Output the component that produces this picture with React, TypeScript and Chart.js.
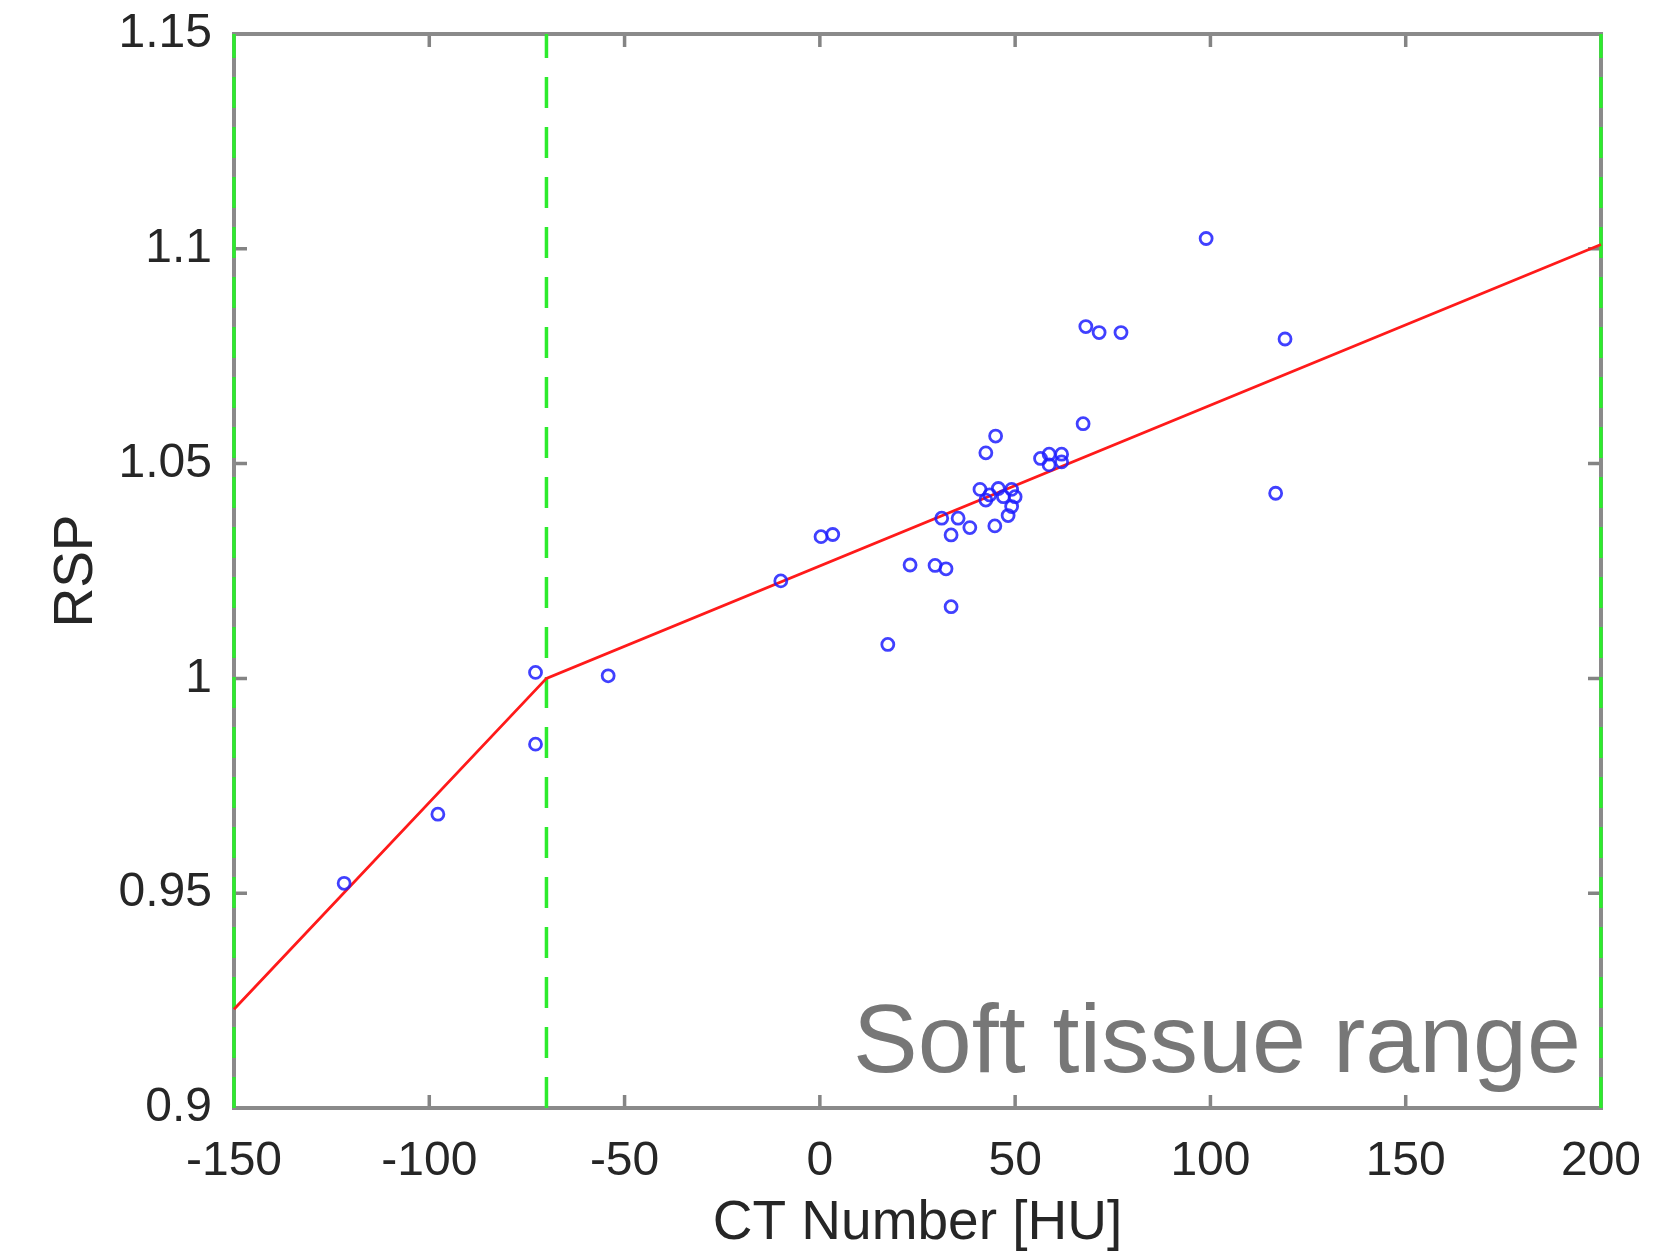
import React, { useEffect, useRef } from "react";
import { Chart, registerables } from "chart.js";

Chart.register(...registerables);

// ---- data ----
const ctNumbers = [
  -121.8, -97.8, -72.8, -72.8, -54.2, -10.0, 0.3, 3.3, 17.4, 23.1,
  29.5, 32.3, 33.6, 31.2, 35.4, 33.6, 38.4, 42.5, 45.0, 44.8,
  48.2, 49.1, 41.0, 42.5, 43.5, 45.7, 47.0, 49.1, 50.0, 56.5,
  58.7, 61.9, 58.7, 61.9, 67.4, 68.1, 71.5, 77.1, 98.9, 116.7, 119.1,
];
const rspValues = [
  0.9523, 0.9684, 1.0014, 0.9847, 1.0006, 1.0227, 1.0330, 1.0335, 1.0079, 1.0264,
  1.0263, 1.0255, 1.0167, 1.0373, 1.0373, 1.0334, 1.0351, 1.0525, 1.0564, 1.0355,
  1.0379, 1.0400, 1.0440, 1.0415, 1.0427, 1.0442, 1.0423, 1.0440, 1.0423, 1.0512,
  1.0522, 1.0522, 1.0497, 1.0504, 1.0593, 1.0819, 1.0805, 1.0805, 1.1024, 1.0431, 1.0790,
];
const fitCT = [-150, -70, 200];
const fitRSP = [0.923, 1.0, 1.101];
const boundaryCT = [-150, -70, 200];
const rspRange = [0.9, 1.15];
const ctRange = [-150, 200];

const xTickValues = [-150, -100, -50, 0, 50, 100, 150, 200];
const xTickLabels = ["-150", "-100", "-50", "0", "50", "100", "150", "200"];
const yTickValues = [0.9, 0.95, 1, 1.05, 1.1, 1.15];
const yTickLabels = ["0.9", "0.95", "1", "1.05", "1.1", "1.15"];

const xTitle = "CT Number [HU]";
const yTitle = "RSP";
const annotationText = "Soft tissue range";

const FONT = "'Liberation Sans', Arial, Helvetica, sans-serif";
const AXIS_GRAY = "#8a8a8a";

const boxPlugin = {
  id: "matlabBox",
  beforeDatasetsDraw(chart: any) {
    const { ctx, chartArea, scales } = chart;
    const { left, right, top, bottom } = chartArea;
    ctx.save();
    ctx.strokeStyle = "#848484";
    ctx.lineWidth = 3.5;
    const tl = 13;
    xTickValues.forEach((v) => {
      const px = scales.x.getPixelForValue(v);
      ctx.beginPath();
      ctx.moveTo(px, bottom);
      ctx.lineTo(px, bottom - tl);
      ctx.moveTo(px, top);
      ctx.lineTo(px, top + tl);
      ctx.stroke();
    });
    yTickValues.forEach((v) => {
      const py = scales.y.getPixelForValue(v);
      ctx.beginPath();
      ctx.moveTo(left, py);
      ctx.lineTo(left + tl, py);
      ctx.moveTo(right, py);
      ctx.lineTo(right - tl, py);
      ctx.stroke();
    });
    ctx.strokeStyle = AXIS_GRAY;
    ctx.lineWidth = 4;
    ctx.strokeRect(left, top, right - left, bottom - top);
    ctx.restore();
  },
  afterDraw(chart: any) {
    const { ctx, chartArea } = chart;
    ctx.save();
    ctx.fillStyle = "#777777";
    ctx.font = `97px ${FONT}`;
    ctx.textAlign = "right";
    ctx.textBaseline = "alphabetic";
    ctx.fillText(annotationText, chartArea.right - 20, chartArea.bottom - 36);
    ctx.restore();
  },
};

export default function App() {
  const canvasRef = useRef<HTMLCanvasElement | null>(null);

  useEffect(() => {
    if (!canvasRef.current) return;
    const boundaryDatasets = boundaryCT.map((ct) => ({
      type: "line" as const,
      data: [
        { x: ct, y: rspRange[0] },
        { x: ct, y: rspRange[1] },
      ],
      borderColor: "rgb(45,235,45)",
      borderWidth: 3.5,
      borderDash: [31, 19],
      pointRadius: 0,
      showLine: true,
      fill: false,
      clip: false as any,
      order: 3,
    }));
    const chart = new Chart(canvasRef.current, {
      type: "scatter",
      data: {
        datasets: [
          ...boundaryDatasets,
          {
            type: "line",
            data: fitCT.map((x, i) => ({ x, y: fitRSP[i] })),
            borderColor: "#ff1a1a",
            borderWidth: 2.8,
            pointRadius: 0,
            showLine: true,
            fill: false,
            clip: false as any,
            order: 2,
          },
          {
            type: "scatter",
            data: ctNumbers.map((x, i) => ({ x, y: rspValues[i] })),
            borderColor: "rgba(30,30,255,0.85)",
            backgroundColor: "rgba(0,0,0,0)",
            borderWidth: 2.8,
            pointRadius: 6,
            pointStyle: "circle",
            order: 1,
          },
        ] as any,
      },
      options: {
        animation: false,
        responsive: false,
        devicePixelRatio: 1,
        layout: { padding: { left: 0, right: 69, top: 34, bottom: 0 } },
        plugins: {
          legend: { display: false },
          tooltip: { enabled: false },
        },
        scales: {
          x: {
            type: "linear",
            min: ctRange[0],
            max: ctRange[1],
            grid: { display: false },
            border: { display: false },
            afterBuildTicks: (scale: any) => {
              scale.ticks = xTickValues.map((v) => ({ value: v }));
            },
            afterFit: (scale: any) => {
              scale.height = 149;
              scale.paddingLeft = 0;
              scale.paddingRight = 0;
            },
            ticks: {
              autoSkip: false,
              maxRotation: 0,
              padding: 17,
              color: "#262626",
              font: { family: FONT, size: 48 },
              callback: (_v: any, i: number) => xTickLabels[i],
            },
            title: {
              display: true,
              text: xTitle,
              color: "#262626",
              font: { family: FONT, size: 55 },
              padding: { top: 0, bottom: 0 },
            },
          },
          y: {
            type: "linear",
            min: rspRange[0],
            max: rspRange[1],
            grid: { display: false },
            border: { display: false },
            afterBuildTicks: (scale: any) => {
              scale.ticks = yTickValues.map((v) => ({ value: v }));
            },
            afterFit: (scale: any) => {
              scale.width = 234;
              scale.paddingTop = 0;
              scale.paddingBottom = 0;
            },
            ticks: {
              autoSkip: false,
              padding: 14,
              color: "#262626",
              font: { family: FONT, size: 48 },
              callback: (_v: any, i: number) => yTickLabels[i],
            },
            title: {
              display: true,
              text: yTitle,
              color: "#262626",
              font: { family: FONT, size: 55 },
              padding: { top: 44, bottom: 0 },
            },
          },
        },
      } as any,
      plugins: [boxPlugin],
    });
    return () => chart.destroy();
  }, []);

  return (
    <div
      style={{
        position: "fixed",
        left: 0,
        top: 0,
        width: 1670,
        height: 1257,
        background: "#ffffff",
        overflow: "hidden",
      }}
    >
      <canvas ref={canvasRef} width={1670} height={1257} style={{ display: "block" }} />
    </div>
  );
}
